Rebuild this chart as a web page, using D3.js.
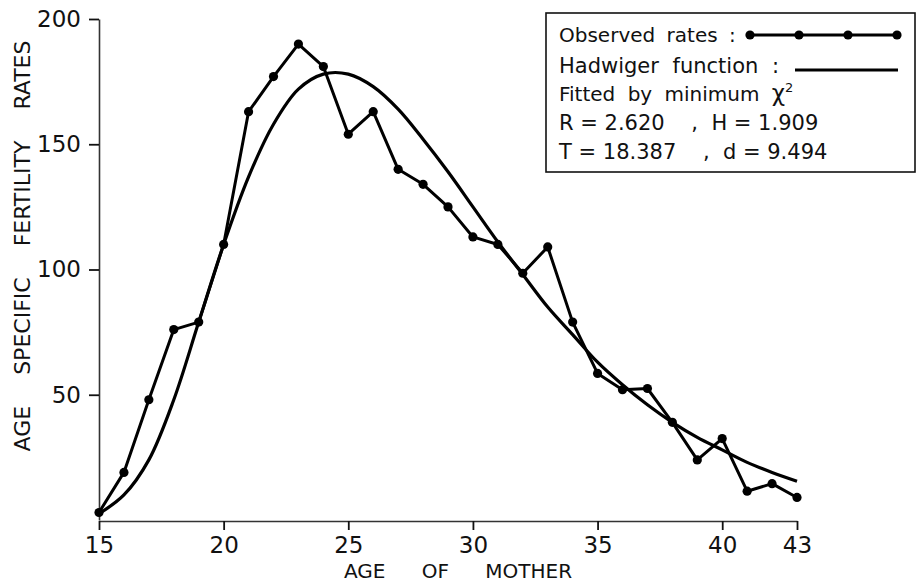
<!DOCTYPE html>
<html>
<head>
<meta charset="utf-8">
<script src="https://cdn.jsdelivr.net/npm/d3@7"></script>
<style>
  body { margin: 0; background: #fff; }
  text { font-family: "DejaVu Sans", sans-serif; fill: #111; }
</style>
</head>
<body>
<div class="chart"></div>
<script>
let ages = [15,16,17,18,19,20,21,22,23,24,25,26,27,28,29,30,31,32,33,34,35,36,37,38,39,40,41,42,43];
let observed = [3,19,48,76,79,110,163,177,190,181,154,163,140,134,125,113,110,98.5,109,79,58.5,52,52.5,39,24,32.5,11.5,14.5,9];
let hadwiger = [2.5,10,24,48,79,110,137,158,172,178,178,173,164,152,139,125,111,98,85,74,63,54,46,39,33,28,23,19,15.5];
let xTicks = [15,20,25,30,35,40,43];
let yTicks = [50,100,150,200];
let legendParams = ['R = 2.620    ,  H = 1.909', 'T = 18.387    ,  d = 9.494'];

let width = 922;
let height = 582;

let svg = d3.select('.chart')
            .append('svg')
            .attr('width', width)
            .attr('height', height);

let x = d3.scaleLinear().domain([15, 43]).range([99, 797]);
let y = d3.scaleLinear().domain([0, 200]).range([520, 19]);

// axes
let xAxis = d3.axisBottom(x).tickValues(xTicks).tickSize(9).tickSizeOuter(0).tickPadding(7);
let yAxis = d3.axisLeft(y).tickValues(yTicks).tickSize(10).tickSizeOuter(0).tickPadding(8);

let gx = svg.append('g')
   .attr('transform', 'translate(0,521)')
   .call(xAxis);
gx.select('.domain').attr('stroke', '#333').attr('stroke-width', 1.6);
gx.selectAll('.tick line').attr('stroke', '#111').attr('stroke-width', 1.8);
gx.selectAll('.tick text').style('font-size', '23px').attr('fill', '#111');

let gy = svg.append('g')
   .attr('transform', 'translate(99,0)')
   .call(yAxis);
gy.select('.domain').attr('stroke', '#333').attr('stroke-width', 1.6);
gy.selectAll('.tick line').attr('stroke', '#111').attr('stroke-width', 1.8);
gy.selectAll('.tick text').style('font-size', '23px').attr('fill', '#111');

// axis titles
svg.append('text')
   .attr('x', 458)
   .attr('y', 578)
   .attr('text-anchor', 'middle')
   .style('font-size', '20px')
   .style('word-spacing', '30px')
   .text('AGE OF MOTHER');

svg.append('text')
   .attr('transform', 'translate(30,246) rotate(-90)')
   .attr('text-anchor', 'middle')
   .style('font-size', '22px')
   .style('word-spacing', '24px')
   .text('AGE SPECIFIC FERTILITY RATES');

// fitted curve
let smooth = d3.line()
   .x((d, i) => x(ages[i]))
   .y(d => y(d))
   .curve(d3.curveCatmullRom);

svg.append('path')
   .datum(hadwiger)
   .attr('d', smooth)
   .attr('fill', 'none')
   .attr('stroke', '#000')
   .attr('stroke-width', 3.2);

// observed rates
let straight = d3.line()
   .x((d, i) => x(ages[i]))
   .y(d => y(d));

svg.append('path')
   .datum(observed)
   .attr('d', straight)
   .attr('fill', 'none')
   .attr('stroke', '#000')
   .attr('stroke-width', 3)
   .attr('stroke-linejoin', 'round');

svg.selectAll('circle.obs')
   .data(observed)
   .enter()
   .append('circle')
   .attr('class', 'obs')
   .attr('cx', (d, i) => x(ages[i]))
   .attr('cy', d => y(d))
   .attr('r', 4.6)
   .attr('fill', '#000');

// legend
let legend = svg.append('g');
legend.append('rect')
   .attr('x', 546).attr('y', 13)
   .attr('width', 369).attr('height', 159)
   .attr('fill', '#fff')
   .attr('stroke', '#111')
   .attr('stroke-width', 1.6);

legend.append('text').attr('x', 559).attr('y', 42).style('font-size', '20px').style('word-spacing', '5px').text('Observed rates :');
legend.append('line').attr('x1', 750).attr('x2', 897).attr('y1', 35).attr('y2', 35)
   .attr('stroke', '#000').attr('stroke-width', 3);
legend.selectAll('circle.leg')
   .data([0, 1, 2, 3])
   .enter()
   .append('circle')
   .attr('class', 'leg')
   .attr('cx', d => 750 + d * 49)
   .attr('cy', 35)
   .attr('r', 4.6)
   .attr('fill', '#000');

legend.append('text').attr('x', 559).attr('y', 73).style('font-size', '21px').style('word-spacing', '7px').text('Hadwiger function :');
legend.append('line').attr('x1', 795).attr('x2', 898).attr('y1', 70).attr('y2', 70)
   .attr('stroke', '#000').attr('stroke-width', 3);

let fit = legend.append('text').attr('x', 559).attr('y', 101).style('font-size', '20px').style('word-spacing', '6px');
fit.append('tspan').text('Fitted by minimum ');
fit.append('tspan').style('font-size', '23px').text('χ');
fit.append('tspan').attr('dy', -9).style('font-size', '13px').text('2');

legend.selectAll('text.param')
   .data(legendParams)
   .enter()
   .append('text')
   .attr('class', 'param')
   .attr('x', 559)
   .attr('y', (d, i) => 130 + i * 29)
   .style('font-size', '21px')
   .style('white-space', 'pre')
   .text(d => d);
</script>
</body>
</html>
